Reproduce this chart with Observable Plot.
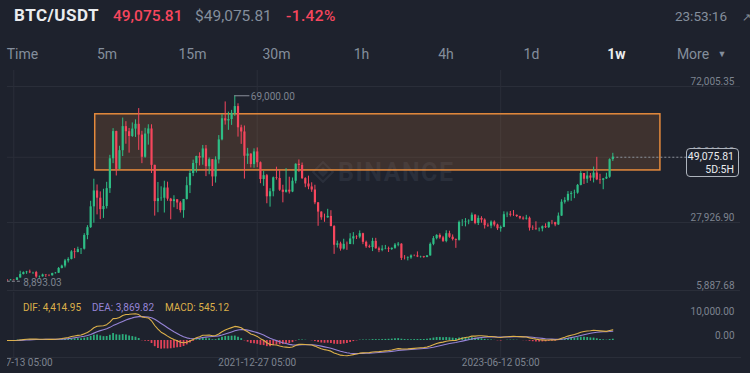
<!DOCTYPE html>
<html><head><meta charset="utf-8">
<script src="https://cdn.jsdelivr.net/npm/d3@7"></script>
<script src="https://cdn.jsdelivr.net/npm/@observablehq/plot@0.6"></script>
<style>
html,body{margin:0;padding:0;background:#1e222d;width:750px;height:373px;overflow:hidden;font-family:Roboto,"Noto Sans",sans-serif}
#wrap{position:relative;width:750px;height:373px}
.layer{position:absolute;left:0}
#pricebox{position:absolute;left:686px;top:148px;width:51px;height:27px;border:1px solid #aeb4bd;border-radius:4px;background:#1e222d;color:#eaecef;font-size:10.5px;text-align:right;box-sizing:content-box}
#pricebox div{padding-right:4px;line-height:12.5px}
#leftclip{position:absolute;left:0;top:70px;width:7px;height:303px;background:#1e222d}
</style></head><body><div id="wrap">
<svg class="layer" style="top:0" width="750" height="373" font-family="Roboto,sans-serif">
  <text x="14" y="21" font-size="17" font-weight="700" fill="#eaecef" letter-spacing="0.5">BTC/USDT</text>
  <text x="113" y="21" font-size="15.5" font-weight="500" fill="#f6465d">49,075.81</text>
  <text x="195" y="21" font-size="15.5" fill="#848e9c">$49,075.81</text>
  <text x="286" y="21" font-size="15.5" font-weight="500" fill="#f6465d" letter-spacing="0.4">-1.42%</text>
  <text x="727" y="20.5" font-size="13.5" fill="#848e9c" text-anchor="end">23:53:16</text>
  <text x="742" y="20.5" font-size="11" fill="#848e9c">↗</text>
  <g font-size="14" fill="#848e9c" text-anchor="middle">
    <text x="22.5" y="59">Time</text><text x="107" y="59">5m</text><text x="192.5" y="59">15m</text>
    <text x="276.5" y="59">30m</text><text x="361.5" y="59">1h</text><text x="446" y="59">4h</text>
    <text x="531.5" y="59">1d</text><text x="616.5" y="59" fill="#eaecef" font-weight="700">1w</text>
    <text x="693" y="59">More</text><text x="722" y="57" font-size="9">▼</text>
  </g>
  <g opacity="0.9">
    <g transform="translate(323,172) rotate(45)" fill="none" stroke="#2c313d" stroke-width="2.2">
      <rect x="-7" y="-7" width="14" height="14"/><rect x="-2.5" y="-2.5" width="5" height="5" fill="#2c313d"/>
    </g>
    <text x="338" y="181" font-size="25" font-weight="700" fill="#2c313d" letter-spacing="1.5">BINANCE</text>
  </g>
  <g font-size="10">
    <text x="23" y="310.5" fill="#dcb04a">DIF: 4,414.95</text>
    <text x="92" y="310.5" fill="#9684d6">DEA: 3,869.82</text>
    <text x="165" y="310.5" fill="#dcb04a">MACD: 545.12</text>
  </g>
</svg>
<div id="main" class="layer" style="top:70px"></div>
<div id="macd" class="layer" style="top:292px"></div>
<div id="leftclip"></div>
<div id="pricebox"><div style="margin-top:2px">49,075.81</div><div>5D:5H</div></div>
</div>
<script>
// Weekly BTC/USDT candles, first week starting 2020-06-29
const firstWeek = "2020-06-29";
const open = [
 9116,9073,9240,9160,9930,11053,11680,11860,11650,11710,10255,10330,10920,10775,10670,11370,11500,13030,13800,15480,15960,18400,18190,19150,19275,23700,26260,
 33000,38150,35800,32100,33100,38900,48580,57400,45140,51200,59000,57350,55800,58200,59750,56250,49070,56600,58240,46450,34700,35650,35800,39100,35500,34700,35300,34250,31770,35400,39850,43800,47050,49300,48800,51770,46000,48300,42700,48200,54700,61550,60850,61300,63300,65500,58620,57270,49400,50100,46700,50800,
 47300,41850,43100,36250,37900,42400,42200,38400,37700,38400,37800,41300,46800,46400,42150,40400,39450,38470,34300,31300,29450,29440,29900,26600,20550,21000,19300,20850,20800,22600,23300,23200,24300,21500,20050,19800,21800,19400,18900,19300,19400,19200,19550,20600,20900,16300,16280,16450,17100,17090,16750,16830,
 16600,17100,20850,22700,23750,22950,21800,24300,23150,22400,22150,27950,27990,28170,28350,30300,27600,29250,28700,26900,26750,28050,27100,25900,26350,30450,30600,30300,30250,29850,29300,29050,29300,26100,26000,25800,25850,26550,26250,27950,27900,27150,30000,34500,35000,37050,37350,37450,39950,43800,41950,43000,
 42300,43950,41750,41600,42050,42600,48300];
const high = [
 9375,9470,9345,10111,12123,11915,12087,12486,11795,12095,10580,11180,10990,10960,11490,11720,13350,14100,15960,16500,18800,19480,19920,19420,24300,26900,34800,
 41950,40100,37850,38700,40955,49700,58350,57520,52640,61780,60600,58400,60200,61200,64850,57500,58450,59600,59600,46500,40900,39500,41300,41000,35750,36600,35300,34700,35400,42600,44700,48150,49400,50500,52900,52900,48850,48300,49200,56100,62900,67000,63700,64270,69000,66400,59450,59200,51950,50200,51800,52100,
 47550,44500,43500,38900,42650,45850,44750,40000,45400,42600,42350,46950,48200,47200,42450,42950,40800,40000,34400,31400,30650,32200,31750,26900,21900,21550,22500,21600,24300,24650,23650,25200,24450,21900,20600,22800,22800,19950,20400,20500,19950,19700,21100,21450,21050,17200,16800,17420,17400,18400,17000,16950,
 17200,21300,23370,23950,24250,23450,25250,25100,23900,22600,28400,28850,29200,28800,31000,30500,30050,29800,29100,27500,28450,28450,27400,26800,31400,31300,31500,31800,30350,29950,29750,30250,29700,26850,28150,26150,26800,27500,28050,28600,28000,31000,35300,35950,37950,37950,38400,40250,44500,43800,44400,43800,
 45900,49050,43550,42200,43900,48550,50350];
const low = [
 8893.03,9045,9005,9125,9900,10936,11120,11363,11111,9825,9875,10200,10136,10375,10540,11200,11420,12900,13200,14800,15800,16190,18100,17550,19000,22350,26000,
 27700,30400,28850,29250,32300,37350,47000,43000,45000,49300,53300,50400,55500,55500,51300,47000,48750,53000,43800,30000,31100,34800,31000,34800,28800,32700,32100,31000,29300,35200,37300,42800,43950,46250,46500,42800,43400,39600,40700,46900,54400,59500,57800,59400,62300,55600,53250,42000,46750,45600,45500,45700,
 40500,39650,34000,32900,36250,41650,38000,34300,37450,37150,37600,40450,44200,41850,39200,38550,37700,33700,26700,28650,28000,29300,26550,17600,19650,18650,19000,18900,20750,20700,22400,22650,20750,19550,19550,18500,19300,18150,18450,19100,18200,18850,19250,20050,15600,15800,15480,16000,16850,16550,16400,16300,
 16500,17000,20400,22300,22500,21450,21350,22800,21950,19550,21900,26600,26500,27200,28300,27200,26950,27700,25800,26350,25900,26500,25350,24800,26250,29500,29700,29900,29550,28850,28650,28700,25150,25350,25350,24900,24900,26000,26000,27200,26550,26950,29900,33900,34550,34800,35650,37100,39800,40250,40600,41300,
 40750,41500,40300,38550,41850,42250,47700];
const close = [
 9073,9240,9160,9930,11053,11680,11860,11650,11710,10255,10330,10920,10775,10670,11370,11500,13030,13800,15480,15960,18400,18190,19150,19275,23700,26260,33000,
 38150,35800,32100,33100,38900,48580,57400,45140,51200,59000,57350,55800,58200,59750,56250,49070,56600,58240,46450,34700,35650,35800,39100,35500,34700,35300,34250,31770,35400,39850,43800,47050,49300,48800,51770,46000,48300,42700,48200,54700,61550,60850,61300,63300,65500,58620,57270,49400,50100,46700,50800,47300,
 41850,43100,36250,37900,42400,42200,38400,37700,38400,37800,41300,46800,46400,42150,40400,39450,38470,34300,31300,29450,29440,29900,26600,20550,21000,19300,20850,20800,22600,23300,23200,24300,21500,20050,19800,21800,19400,18900,19300,19400,19200,19550,20600,20900,16300,16280,16450,17100,17090,16750,16830,16600,
 17100,20850,22700,23750,22950,21800,24300,23150,22400,22150,27950,27990,28170,28350,30300,27600,29250,28700,26900,26750,28050,27100,25900,26350,30450,30600,30300,30250,29850,29300,29050,29300,26100,26000,25800,25850,26550,26250,27950,27900,27150,30000,34500,35000,37050,37350,37450,39950,43800,41950,43000,42300,
 43950,41750,41600,42050,42600,48300,49075.81];

// axis ticks and labels
const priceTicks = [72005.35, 49066.12, 27926.90, 5887.68];
const priceTickLabels = ["72,005.35", "49,066.12", "27,926.90", "5,887.68"];
const dateTicks = ["2020-07-13", "2021-12-27", "2023-06-12"];
const dateTickLabels = ["2020-07-13 05:00", "2021-12-27 05:00", "2023-06-12 05:00"];
const macdTicks = [10000, 0];
const macdTickLabels = ["10,000.00", "0.00"];
const lastPrice = 49075.81;
const highLabel = "69,000.00";
const lowLabel = "8,893.03";
// highlighted resistance zone (dates and prices)
const zoneDates = ["2021-01-07", "2024-05-26"];
const zonePrices = [44800, 63000];

const GREEN = "#2ebd85", RED = "#f6465d", GRID = "#2a2e39", LABEL = "#7d838f";
const start = new Date(firstWeek + "T00:00:00Z");
const candles = close.map((c, i) => ({
  date: d3.utcDay.offset(start, 7 * i), open: open[i], high: high[i], low: low[i], close: c,
  color: c >= open[i] ? GREEN : RED
}));

// MACD (12, 26, 9) derived from the candle closes
function ema(values, n) { const a = 2 / (n + 1); let e = values[0]; return values.map((v, i) => i === 0 ? e : (e = a * v + (1 - a) * e)); }
const e12 = ema(close, 12), e26 = ema(close, 26);
const dif = e12.map((v, i) => v - e26[i]);
const dea = ema(dif, 9);
const macd = candles.map((d, i) => ({date: d.date, dif: dif[i], dea: dea[i], hist: dif[i] - dea[i]}));

const xDomain = [new Date("2020-06-14T00:00:00Z"), new Date("2024-11-17T00:00:00Z")];
const dTicks = dateTicks.map(d => new Date(d + "T00:00:00Z"));
const hiC = candles.reduce((a, b) => b.high > a.high ? b : a);
const loC = candles.reduce((a, b) => b.low < a.low ? b : a);
const last = candles[candles.length - 1];
const font = "Roboto,sans-serif";

const main = Plot.plot({
  width: 750, height: 222, marginTop: 16, marginBottom: 2, marginLeft: 0, marginRight: 10,
  style: {background: "transparent", fontFamily: font, overflow: "visible"},
  x: {type: "utc", domain: xDomain, axis: null},
  y: {domain: [5887.68, 72005.35], axis: null},
  marks: [
    Plot.ruleY(priceTicks, {stroke: GRID, strokeWidth: 1}),
    Plot.ruleX(dTicks, {stroke: GRID, strokeWidth: 1, insetTop: -16}),
    Plot.rect([0], {x1: () => new Date(zoneDates[0]), x2: () => new Date(zoneDates[1]), y1: () => zonePrices[0], y2: () => zonePrices[1],
      fill: "#e58a3c", fillOpacity: 0.16, stroke: "#e58a3c", strokeWidth: 1.5}),
    Plot.ruleY([lastPrice], {x1: last.date, x2: xDomain[1], insetRight: 53, stroke: "#8a909a", strokeDasharray: "2,2", strokeWidth: 1}),
    Plot.ruleX(candles, {x: "date", y1: "low", y2: "high", stroke: "color", strokeWidth: 1}),
    Plot.ruleX(candles, {x: "date", y1: "open", y2: "close", stroke: "color", strokeWidth: 2.2}),
    Plot.ruleY([hiC], {y: "high", x1: "date", x2: d => d3.utcDay.offset(d.date, 33), stroke: "#8a909a", strokeWidth: 1}),
    Plot.text([hiC], {x: "date", y: "high", text: () => highLabel, dx: 16, dy: 1, textAnchor: "start", fill: LABEL, fontSize: 10}),
    Plot.ruleY([loC], {y: "low", x1: "date", x2: d => d3.utcDay.offset(d.date, 33), stroke: "#8a909a", strokeDasharray: "3,2", strokeWidth: 1}),
    Plot.text([loC], {x: "date", y: "low", text: () => lowLabel, dx: 16, dy: 2, textAnchor: "start", fill: LABEL, fontSize: 10}),
    Plot.text(priceTicks, {y: d => d, text: (d, i) => priceTickLabels[i], frameAnchor: "right", dx: -6, dy: -5, textAnchor: "end", fill: LABEL, fontSize: 10})
  ]
});
document.getElementById("main").appendChild(main);

const macdPlot = Plot.plot({
  width: 750, height: 81, marginTop: 0, marginBottom: 16, marginLeft: 0, marginRight: 10,
  style: {background: "transparent", fontFamily: font, overflow: "visible"},
  x: {type: "utc", domain: xDomain, axis: null},
  y: {domain: [-7083, 20000], axis: null},
  marks: [
    Plot.frame({anchor: "bottom", stroke: GRID}),
    Plot.ruleX(dTicks, {stroke: GRID, strokeWidth: 1}),
    Plot.ruleX(macd, {x: "date", y1: 0, y2: "hist", stroke: d => d.hist >= 0 ? GREEN : RED, strokeWidth: 1.8, strokeOpacity: 0.9}),
    Plot.line(macd, {x: "date", y: "dea", stroke: "#9684d6", strokeWidth: 1.1}),
    Plot.line(macd, {x: "date", y: "dif", stroke: "#dcb04a", strokeWidth: 1.1}),
    Plot.text(macdTicks, {y: d => d, text: (d, i) => macdTickLabels[i], frameAnchor: "right", dx: -6, dy: -5, textAnchor: "end", fill: LABEL, fontSize: 10}),
    Plot.text(dTicks, {x: d => d, text: (d, i) => dateTickLabels[i], frameAnchor: "bottom", dy: 5, lineAnchor: "middle", fill: LABEL, fontSize: 10})
  ]
});
document.getElementById("macd").appendChild(macdPlot);
</script>
</body></html>
